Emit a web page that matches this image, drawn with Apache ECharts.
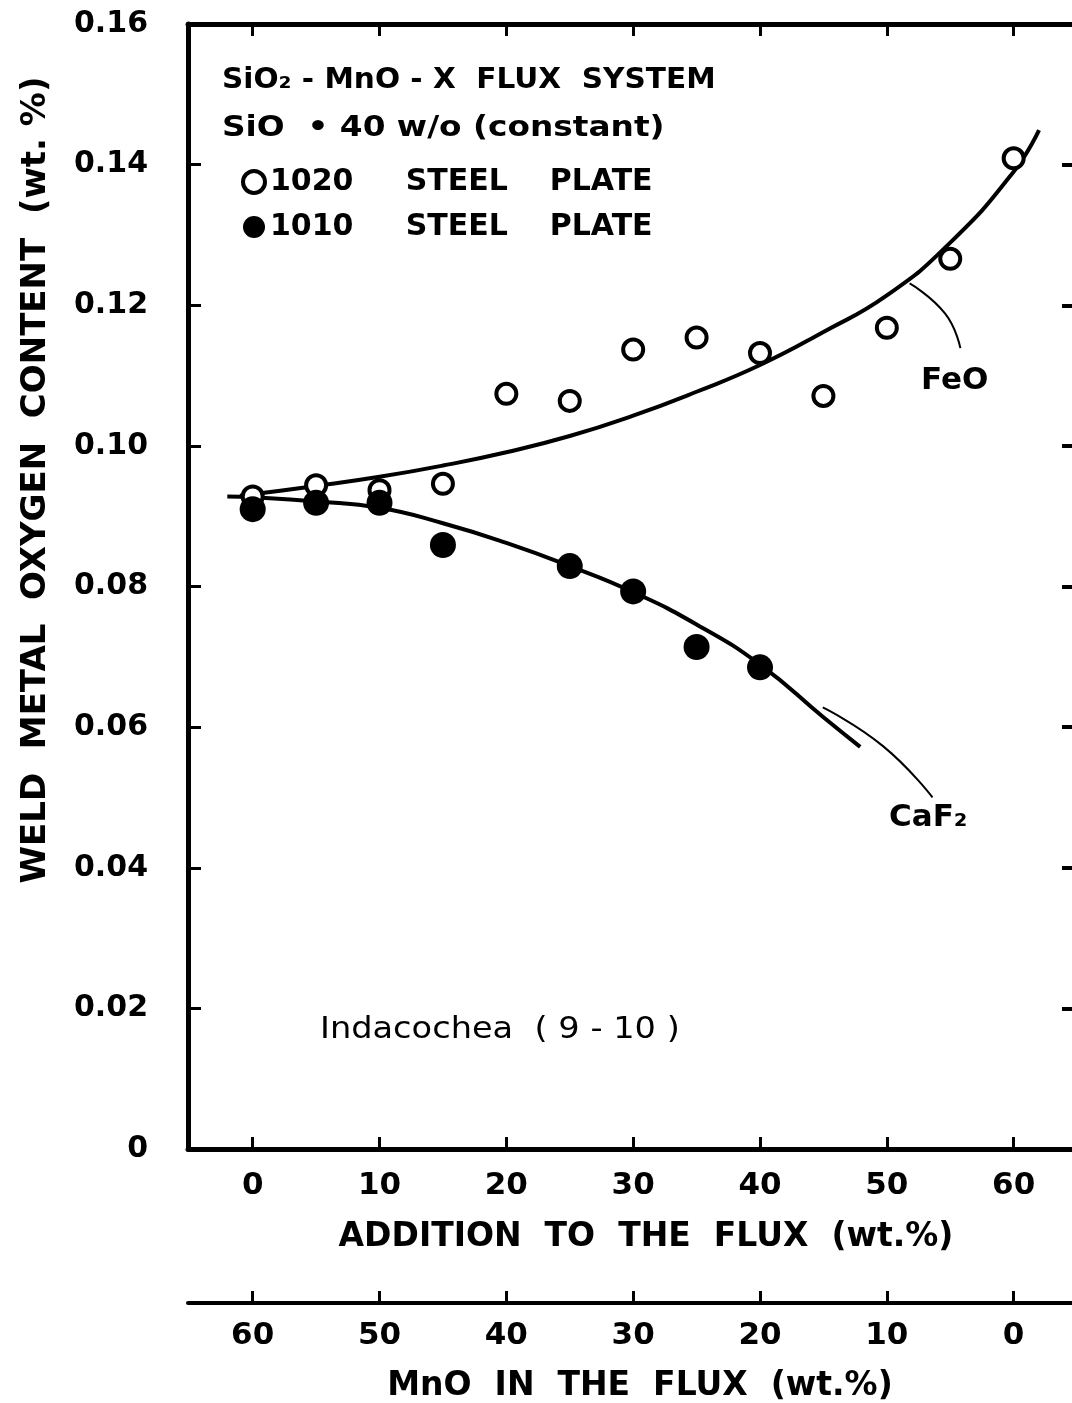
<!DOCTYPE html>
<html>
<head>
<meta charset="utf-8">
<script src="https://cdn.jsdelivr.net/npm/echarts@6/dist/echarts.min.js"></script>
<style>
html,body{margin:0;padding:0;background:#fff;}
#chart{width:1072px;height:1403px;}
</style>
</head>
<body>
<div id="chart"></div>
<script>
// ---- data ----
const additionTicks = [0, 10, 20, 30, 40, 50, 60];
const mnoTicks = [0, 10, 20, 30, 40, 50, 60];
const yTicks = [0, 0.02, 0.04, 0.06, 0.08, 0.10, 0.12, 0.14, 0.16];

const steel1020X = [0, 5, 10, 15, 20, 25, 30, 35, 40, 45, 50, 55, 60];
const steel1020Y = [0.0928, 0.0944, 0.0937, 0.0946, 0.1074, 0.1064, 0.1137, 0.1154, 0.1132, 0.1071, 0.1168, 0.1266, 0.1409];

const steel1010X = [0, 5, 10, 15, 25, 30, 35, 40];
const steel1010Y = [0.0910, 0.0919, 0.0919, 0.0859, 0.0829, 0.0793, 0.0714, 0.0685];

const feoCurveX = [-1, 5, 10, 15, 20, 25, 30, 35, 40, 45, 50, 55, 60, 62];
const feoCurveY = [0.0929, 0.0943, 0.0956, 0.0972, 0.0991, 0.1014, 0.1043, 0.1077, 0.1115, 0.1162, 0.1214, 0.1289, 0.1390, 0.1449];

const caf2CurveX = [-2, 0, 5, 10, 15, 20, 25, 30, 35, 40, 45, 47.9];
const caf2CurveY = [0.0928, 0.0927, 0.0921, 0.0912, 0.0890, 0.0862, 0.0829, 0.0792, 0.0746, 0.0689, 0.0614, 0.0572];

const feoLeaderX = [51.8, 54.6, 55.8];
const feoLeaderY = [0.1231, 0.1188, 0.1139];
const caf2LeaderX = [44.95, 49.7, 53.6];
const caf2LeaderY = [0.0628, 0.0573, 0.0500];

const xMin = -5.1, xMax = 64.6;
const FONT = 'DejaVu Sans';

const zip = (xs, ys) => xs.map((x, i) => [x, ys[i]]);

const chart = echarts.init(document.getElementById('chart'), null, {renderer: 'canvas'});

const tickStyle = {color: '#000', width: 3};
const xLabelStyle = {color: '#000', fontFamily: FONT, fontWeight: 'bold', fontSize: 31};
const yLabelStyle = {color: '#000', fontFamily: FONT, fontWeight: 'bold', fontSize: 30};

const name1020 = '1020     STEEL    PLATE';
const name1010 = '1010     STEEL    PLATE';

chart.setOption({
  animation: false,
  backgroundColor: '#fff',
  grid: [
    {left: 188, right: 0, top: 24, bottom: 254},
    {left: 188, right: 0, top: 1302, height: 1}
  ],
  xAxis: [
    {
      type: 'value', gridIndex: 0, position: 'bottom', min: xMin, max: xMax,
      axisLine: {show: true, onZero: false, lineStyle: {color: '#000', width: 5}},
      axisTick: {show: true, inside: true, length: 12, lineStyle: tickStyle, customValues: additionTicks},
      axisLabel: Object.assign({show: true, margin: 21, customValues: additionTicks}, xLabelStyle),
      splitLine: {show: false}
    },
    {
      type: 'value', gridIndex: 0, position: 'top', min: xMin, max: xMax,
      axisLine: {show: true, onZero: false, lineStyle: {color: '#000', width: 5}},
      axisTick: {show: true, inside: true, length: 12, lineStyle: tickStyle, customValues: additionTicks},
      axisLabel: {show: false},
      splitLine: {show: false}
    },
    {
      type: 'value', gridIndex: 1, position: 'bottom', inverse: true,
      min: 60 - xMax, max: 60 - xMin,
      axisLine: {show: true, onZero: false, lineStyle: {color: '#000', width: 4}},
      axisTick: {show: true, inside: true, length: 12, lineStyle: tickStyle, customValues: mnoTicks},
      axisLabel: Object.assign({show: true, margin: 17, customValues: mnoTicks}, xLabelStyle),
      splitLine: {show: false}
    }
  ],
  yAxis: [
    {
      type: 'value', gridIndex: 0, position: 'left', min: 0, max: 0.16, interval: 0.02,
      axisLine: {show: true, onZero: false, lineStyle: {color: '#000', width: 5}},
      axisTick: {show: true, inside: true, length: 13, lineStyle: tickStyle},
      axisLabel: Object.assign({show: true, margin: 40, customValues: yTicks,
        formatter: v => (v === 0 ? '0' : v.toFixed(2))}, yLabelStyle),
      splitLine: {show: false}
    },
    {
      type: 'value', gridIndex: 0, position: 'right', min: 0, max: 0.16, interval: 0.02,
      axisLine: {show: false, onZero: false},
      axisTick: {show: true, inside: true, length: 10, lineStyle: {color: '#000', width: 4}},
      axisLabel: {show: false},
      splitLine: {show: false}
    },
    {
      type: 'value', gridIndex: 1, min: 0, max: 1, show: false
    }
  ],
  legend: {
    orient: 'vertical', left: 236, top: 162, itemGap: 15,
    itemWidth: 22, itemHeight: 22,
    textStyle: {color: '#000', fontFamily: FONT, fontWeight: 'bold', fontSize: 30},
    data: [
      {name: name1020, itemStyle: {color: '#fff', borderColor: '#000', borderWidth: 4}},
      {name: name1010, itemStyle: {color: '#000', borderWidth: 0}}
    ]
  },
  series: [
    {
      name: 'FeO curve', type: 'line', xAxisIndex: 0, yAxisIndex: 0, smooth: 0.5,
      showSymbol: false, symbol: 'none', data: zip(feoCurveX, feoCurveY),
      lineStyle: {color: '#000', width: 4}, z: 2
    },
    {
      name: 'CaF2 curve', type: 'line', xAxisIndex: 0, yAxisIndex: 0, smooth: 0.5,
      showSymbol: false, symbol: 'none', data: zip(caf2CurveX, caf2CurveY),
      lineStyle: {color: '#000', width: 4}, z: 2
    },
    {
      name: 'FeO leader', type: 'line', xAxisIndex: 0, yAxisIndex: 0, smooth: true,
      symbol: 'none', data: zip(feoLeaderX, feoLeaderY),
      lineStyle: {color: '#000', width: 2}, z: 2
    },
    {
      name: 'CaF2 leader', type: 'line', xAxisIndex: 0, yAxisIndex: 0, smooth: true,
      symbol: 'none', data: zip(caf2LeaderX, caf2LeaderY),
      lineStyle: {color: '#000', width: 2}, z: 2
    },
    {
      name: name1020, type: 'scatter', xAxisIndex: 0, yAxisIndex: 0,
      symbol: 'circle', symbolSize: 20, data: zip(steel1020X, steel1020Y),
      itemStyle: {color: '#fff', borderColor: '#000', borderWidth: 4, opacity: 1}, z: 3
    },
    {
      name: name1010, type: 'scatter', xAxisIndex: 0, yAxisIndex: 0,
      symbol: 'circle', symbolSize: 26, data: zip(steel1010X, steel1010Y),
      itemStyle: {color: '#000', borderColor: '#000', borderWidth: 0, opacity: 1}, z: 4
    }
  ],
  graphic: [
    {type: 'text', x: 222, y: 80, scaleX: 1.02, style: {text: 'SiO₂ - MnO - X  FLUX  SYSTEM', fill: '#000',
      font: 'bold 29px "DejaVu Sans"', verticalAlign: 'middle'}},
    {type: 'text', x: 222, y: 128, scaleX: 1.13, style: {text: 'SiO  • 40 w/o (constant)', fill: '#000',
      font: 'bold 29px "DejaVu Sans"', verticalAlign: 'middle'}},
    {type: 'text', x: 320, y: 1030, scaleX: 1.12, style: {text: 'Indacochea  ( 9 - 10 )', fill: '#000',
      font: '30px "DejaVu Sans"', verticalAlign: 'middle'}},
    {type: 'text', x: 921, y: 381, style: {text: 'FeO', fill: '#000',
      font: 'bold 31px "DejaVu Sans"', verticalAlign: 'middle'}},
    {type: 'text', x: 889, y: 818, style: {text: 'CaF₂', fill: '#000',
      font: 'bold 31px "DejaVu Sans"', verticalAlign: 'middle'}},
    {type: 'text', x: 646, y: 1237, style: {text: 'ADDITION  TO  THE  FLUX  (wt.%)', fill: '#000',
      font: 'bold 33px "DejaVu Sans"', align: 'center', verticalAlign: 'middle'}},
    {type: 'text', x: 640, y: 1386, style: {text: 'MnO  IN  THE  FLUX  (wt.%)', fill: '#000',
      font: 'bold 33px "DejaVu Sans"', align: 'center', verticalAlign: 'middle'}},
    {type: 'text', x: 36, y: 480, rotation: Math.PI / 2, style: {text: 'WELD  METAL  OXYGEN  CONTENT  (wt. %)', fill: '#000',
      font: 'bold 34px "DejaVu Sans"', align: 'center', verticalAlign: 'middle'}}
  ]
});
</script>
</body>
</html>
